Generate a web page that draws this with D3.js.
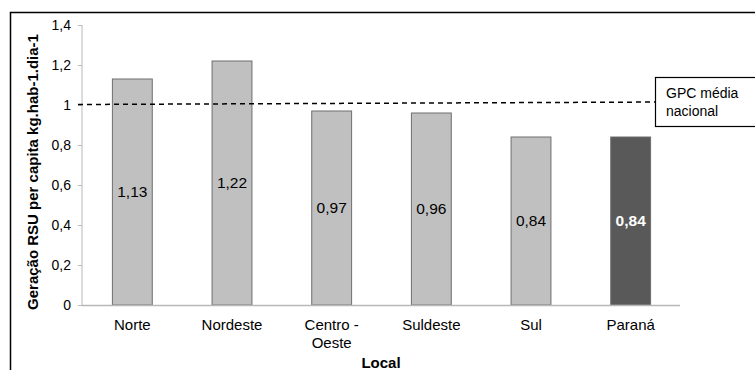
<!DOCTYPE html>
<html>
<head>
<meta charset="utf-8">
<script src="https://cdn.jsdelivr.net/npm/d3@7"></script>
<style>
  html, body { margin: 0; padding: 0; background: #fff; }
  svg { display: block; font-family: "Liberation Sans", Arial, sans-serif; }
</style>
</head>
<body>
<svg id="chart" width="755" height="370"></svg>
<script>
// Regional per-capita MSW generation (kg/hab/dia)
const categories = ["Norte", "Nordeste", "Centro - Oeste", "Suldeste", "Sul", "Paraná"];
const values = [1.13, 1.22, 0.97, 0.96, 0.84, 0.84];
const valueLabels = ["1,13", "1,22", "0,97", "0,96", "0,84", "0,84"];
const highlighted = ["Paraná"];
const yTicks = [0, 0.2, 0.4, 0.6, 0.8, 1, 1.2, 1.4];
const yTickLabels = ["0", "0,2", "0,4", "0,6", "0,8", "1", "1,2", "1,4"];
const nationalAverage = 1.0;
const nationalLabel = ["GPC média", "nacional"];

const FONT = "'Liberation Sans', Arial, sans-serif";
const svg = d3.select("#chart");

// Outer frame
svg.append("path")
  .attr("d", "M10.5,372 V12.5 H760")
  .attr("fill", "none").attr("stroke", "#000").attr("stroke-width", 1.5);

const plotLeft = 82, plotRight = 680, plotTop = 25, plotBottom = 305;

const x = d3.scaleBand().domain(categories).range([plotLeft, plotRight]).paddingInner(0.6).paddingOuter(0.3);
const y = d3.scaleLinear().domain([0, 1.4]).range([plotBottom, plotTop]);

// Y axis
const yAxis = d3.axisLeft(y).tickValues(yTicks).tickSize(4).tickPadding(7)
  .tickFormat((d, i) => yTickLabels[i]);
const gy = svg.append("g").attr("transform", `translate(${plotLeft},0)`).call(yAxis);
gy.select(".domain").attr("stroke", "#b8b8b8").attr("d", `M0,${plotBottom}V${plotTop}`);
gy.selectAll(".tick line").attr("stroke", "#b8b8b8");
gy.selectAll(".tick text").attr("font-size", 14).attr("fill", "#000").attr("font-family", FONT);

// Bars
svg.append("g").selectAll("rect").data(categories).join("rect")
  .attr("x", d => x(d) + 0.5)
  .attr("y", (d, i) => y(values[i]))
  .attr("width", x.bandwidth())
  .attr("height", (d, i) => y(0) - y(values[i]))
  .attr("fill", d => highlighted.includes(d) ? "#595959" : "#c0c0c0")
  .attr("stroke", "#6e6e6e").attr("stroke-width", 1);

// X baseline
svg.append("line")
  .attr("x1", plotLeft).attr("x2", plotRight).attr("y1", plotBottom + 0.5).attr("y2", plotBottom + 0.5)
  .attr("stroke", "#b8b8b8").attr("stroke-width", 1.5);

// Value labels inside bars
svg.append("g").selectAll("text").data(categories).join("text")
  .attr("x", d => x(d) + x.bandwidth() / 2 + 0.5)
  .attr("y", (d, i) => (y(values[i]) + y(0)) / 2)
  .attr("dy", "0.35em")
  .attr("text-anchor", "middle")
  .attr("font-size", 15.5)
  .attr("font-weight", d => highlighted.includes(d) ? "bold" : "normal")
  .attr("fill", d => highlighted.includes(d) ? "#fff" : "#000")
  .text((d, i) => valueLabels[i]);

// Category labels (wrapping on " - ")
const cat = svg.append("g").selectAll("text").data(categories).join("text")
  .attr("x", d => x(d) + x.bandwidth() / 2 + 0.5)
  .attr("y", 329.5)
  .attr("text-anchor", "middle")
  .attr("font-size", 15)
  .attr("fill", "#000");
cat.each(function (d) {
  const parts = d.includes(" - ") ? [d.split(" - ")[0] + " -", d.split(" - ")[1]] : [d];
  d3.select(this).selectAll("tspan").data(parts).join("tspan")
    .attr("x", x(d) + x.bandwidth() / 2 + 0.5)
    .attr("dy", (p, i) => i === 0 ? 0 : 18)
    .text(p => p);
});

// Axis titles
svg.append("text")
  .attr("x", (plotLeft + plotRight) / 2).attr("y", 368)
  .attr("text-anchor", "middle").attr("font-size", 15).attr("font-weight", "bold")
  .text("Local");

svg.append("text")
  .attr("transform", `translate(38,172) rotate(-90)`)
  .attr("text-anchor", "middle").attr("font-size", 15).attr("font-weight", "bold")
  .text("Geração RSU per capita kg.hab-1.dia-1");

// National average reference line and its label box
const boxX = 655;
svg.append("line")
  .attr("x1", plotLeft - 4).attr("x2", boxX + 7)
  .attr("y1", y(nationalAverage) - 0.5).attr("y2", y(nationalAverage) - 3)
  .attr("stroke", "#000").attr("stroke-width", 1.5).attr("stroke-dasharray", "5,4");

svg.append("rect")
  .attr("x", boxX + 0.5).attr("y", 77.5).attr("width", 120).attr("height", 49)
  .attr("fill", "#fff").attr("stroke", "#000").attr("stroke-width", 1.2);

svg.append("text")
  .attr("x", boxX + 11).attr("y", 97.5)
  .attr("font-size", 14).attr("fill", "#000")
  .selectAll("tspan").data(nationalLabel).join("tspan")
  .attr("x", boxX + 11).attr("dy", (d, i) => i === 0 ? 0 : 18)
  .text(d => d);
</script>
</body>
</html>
